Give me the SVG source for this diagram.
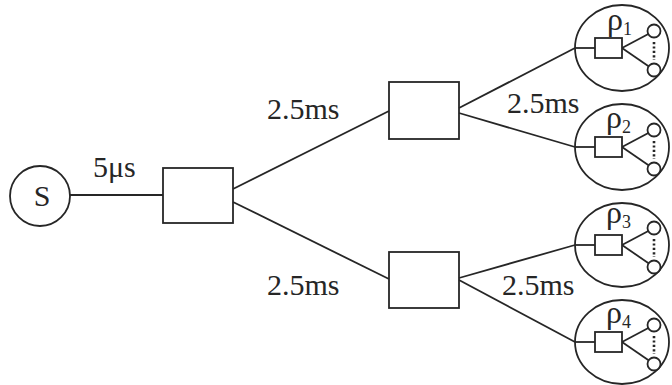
<svg xmlns="http://www.w3.org/2000/svg" width="672" height="385" viewBox="0 0 672 385">
<style>
.s{fill:none;stroke:#262626;stroke-width:1.8}
.w{fill:#fff;stroke:#262626;stroke-width:1.8}
.d{fill:none;stroke:#262626;stroke-width:2.6;stroke-dasharray:2.2 2.2}
text{fill:#262626}
</style>
<defs>
<g id="leaf">
<line class="s" x1="-47" y1="0" x2="-27" y2="0"/>
<line class="s" x1="0" y1="0" x2="32" y2="-17"/>
<line class="s" x1="0" y1="0" x2="32" y2="22"/>
<rect class="w" x="-27" y="-10" width="27" height="20"/>
<circle class="w" cx="32" cy="-17" r="6.5"/>
<circle class="w" cx="32" cy="22" r="6.5"/>
<line class="d" x1="32" y1="-6" x2="32" y2="12"/>
</g>
</defs>
<rect width="672" height="385" fill="#fff"/>
<g id="connectors" font-family="'Liberation Serif', 'Times New Roman', serif" font-size="30">
<line class="s" x1="70" y1="195" x2="163" y2="195"/>
<line class="s" x1="233" y1="189" x2="389" y2="111"/>
<line class="s" x1="233" y1="202" x2="389" y2="279"/>
<line class="s" x1="459" y1="108" x2="575" y2="48"/>
<line class="s" x1="459" y1="113" x2="575" y2="147"/>
<line class="s" x1="459" y1="278" x2="575" y2="245"/>
<line class="s" x1="459" y1="280" x2="575" y2="342"/>
<text x="93" y="177">5μs</text>
<text x="267" y="119">2.5ms</text>
<text x="507" y="113">2.5ms</text>
<text x="267" y="295">2.5ms</text>
<text x="502" y="295">2.5ms</text>
</g>
<g id="source" font-family="'Liberation Serif', 'Times New Roman', serif" font-size="30">
<circle class="s" cx="40" cy="196" r="30"/>
<text x="42" y="206" text-anchor="middle">S</text>
</g>
<g id="switch1"><rect class="s" x="163" y="168" width="70" height="55"/></g>
<g id="switch2"><rect class="s" x="389" y="82" width="70" height="57"/></g>
<g id="switch3"><rect class="s" x="389" y="252" width="70" height="56"/></g>
<g id="rho1" font-family="'Liberation Serif', 'Times New Roman', serif" font-size="32">
<ellipse class="s" cx="622" cy="48" rx="47" ry="43"/>
<use href="#leaf" x="622" y="48"/>
<text x="607" y="30">ρ<tspan font-size="18" dy="5">1</tspan></text>
</g>
<g id="rho2" font-family="'Liberation Serif', 'Times New Roman', serif" font-size="32">
<ellipse class="s" cx="622" cy="147" rx="47" ry="43"/>
<use href="#leaf" x="622" y="147"/>
<text x="606" y="128">ρ<tspan font-size="18" dy="5">2</tspan></text>
</g>
<g id="rho3" font-family="'Liberation Serif', 'Times New Roman', serif" font-size="32">
<ellipse class="s" cx="622" cy="245" rx="47" ry="42"/>
<use href="#leaf" x="622" y="245"/>
<text x="606" y="223">ρ<tspan font-size="18" dy="5">3</tspan></text>
</g>
<g id="rho4" font-family="'Liberation Serif', 'Times New Roman', serif" font-size="32">
<ellipse class="s" cx="622" cy="342" rx="47" ry="42"/>
<use href="#leaf" x="622" y="342"/>
<text x="606" y="323">ρ<tspan font-size="18" dy="5">4</tspan></text>
</g>
</svg>
